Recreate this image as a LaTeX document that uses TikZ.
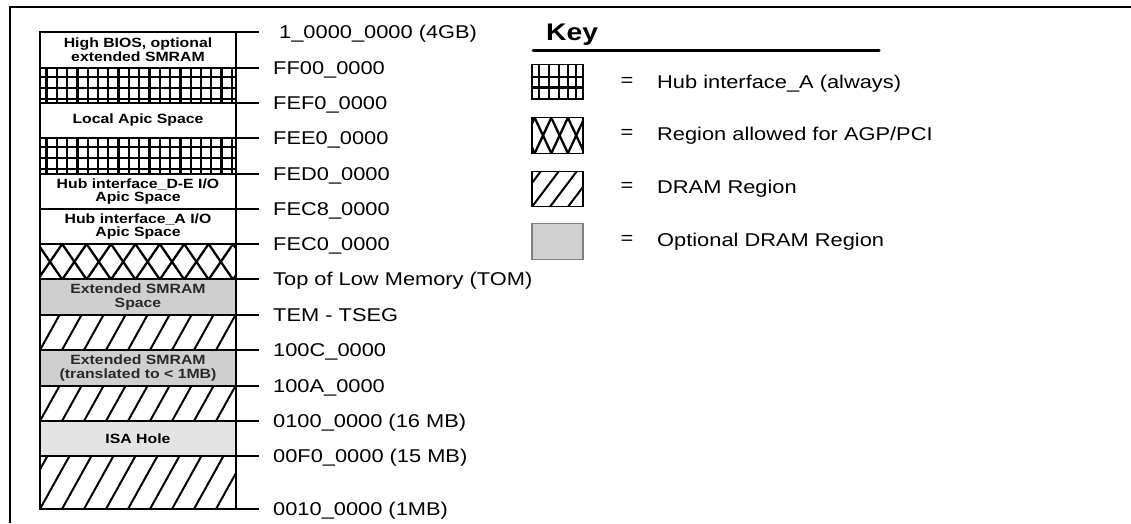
\documentclass[tikz,border=0pt]{standalone}
\usepackage{fontspec}
\setmainfont{Liberation Sans}[FakeStretch=1.18]
\usetikzlibrary{calc}
\definecolor{smram}{HTML}{CFCFCF}
\definecolor{isagray}{HTML}{E4E4E4}
\definecolor{keygray}{HTML}{D0D0D0}
\definecolor{darktext}{HTML}{2A2A2A}
\tikzset{
  membox/.style={draw, line width=1.4pt, minimum width=196pt, inner sep=0pt, outer sep=0pt,
    font=\bfseries\fontsize{13.4}{13.9}\selectfont, align=center},
  keybox/.style={draw, line width=1.4pt, minimum width=51pt, minimum height=35.5pt, inner sep=0pt, outer sep=0pt},
  addr/.style={anchor=base west, inner sep=0pt, font=\fontsize{18.5}{20}\selectfont},
  eqsign/.style={inner sep=0pt, font=\fontsize{18.5}{20}\selectfont},
  tickline/.style={line width=1.3pt},
  patline/.style={line width=2.3pt},
  gridpat/.style={path picture={
      \coordinate (nw) at (path picture bounding box.north west);
      \foreach \i in {0,...,18} {\draw[patline] ($(nw)+(6.5+10.3*\i,0)$) -- ++(0,40);}
      \foreach \j in {9,20,31} {\draw[patline] ($(nw)+(0,\j)$) -- ++(200,0);}
  }},
  crosspat/.style={path picture={
      \coordinate (nw) at (path picture bounding box.north west);
      \foreach \i in {-1,...,9} {
        \pgfmathsetmacro\cc{10+24.4*\i}
        \draw[patline] ($(nw)+(\cc-12.2,0)$) -- ++(24.4,35.5);
        \draw[patline] ($(nw)+(\cc+12.2,0)$) -- ++(-24.4,35.5);
      }
  }},
  diagpat/.style={path picture={
      \coordinate (sw) at (path picture bounding box.south west);
      \foreach \i in {-4,...,10} {\draw[line width=2pt] ($(sw)+(22*\i,0)$) -- ++(40,-72);}
  }},
  keygridpat/.style={path picture={
      \coordinate (nw) at (path picture bounding box.north west);
      \foreach \xx in {7.3,17.3,27.3,36.3,44} {\draw[patline] ($(nw)+(\xx,0)$) -- ++(0,40);}
      \foreach \j in {12.7,23.3,35} {\draw[patline] ($(nw)+(0,\j)$) -- ++(60,0);}
  }},
  keycrosspat/.style={path picture={
      \coordinate (nw) at (path picture bounding box.north west);
      \foreach \i in {-1,...,3} {
        \pgfmathsetmacro\cc{11+16.6*\i}
        \draw[patline] ($(nw)+(\cc-8.3,0)$) -- ++(16.6,35.5);
        \draw[patline] ($(nw)+(\cc+8.3,0)$) -- ++(-16.6,35.5);
      }
  }},
  keydiagpat/.style={path picture={
      \coordinate (sw) at (path picture bounding box.south west);
      \foreach \i in {-3,...,3} {\draw[line width=2pt] ($(sw)+(18*\i,0)$) -- ++(40,-53);}
  }},
}
\begin{document}
\begin{tikzpicture}[x=1pt,y=-1pt]
\useasboundingbox (0,0) rectangle (1131,523);
% frame
\draw[line width=2.4pt] (10,523) -- (10,7) -- (1131,7);

% memory map rows
\node[membox, minimum height=36pt] (r1) at (138,50) {High BIOS, optional\\extended SMRAM};
\node[membox, minimum height=35pt, gridpat] (r2) at (138,85.5) {};
\node[membox, minimum height=35pt] (r3) at (138,120.5) {Local Apic Space};
\node[membox, minimum height=36pt, gridpat] (r4) at (138,156) {};
\node[membox, minimum height=35pt] (r5) at (138,191.5) {Hub interface\_D-E I/O\\Apic Space};
\node[membox, minimum height=35pt] (r6) at (138,226.5) {Hub interface\_A I/O\\Apic Space};
\node[membox, minimum height=35pt, crosspat] (r7) at (138,261.5) {};
\node[membox, minimum height=36pt, fill=smram, text=darktext] (r8) at (138,297) {Extended SMRAM\\Space};
\node[membox, minimum height=35pt, diagpat] (r9) at (138,332.5) {};
\node[membox, minimum height=36pt, fill=smram, text=darktext] (r10) at (138,368) {Extended SMRAM\\(translated to < 1MB)};
\node[membox, minimum height=35pt, diagpat] (r11) at (138,403.5) {};
\node[membox, minimum height=35pt, fill=isagray] (r12) at (138,438.5) {ISA Hole};
\node[membox, minimum height=53pt, diagpat] (r13) at (138,482.5) {};

% ticks
\foreach \r in {r1,r2,r3,r4,r5,r6,r7,r8,r9,r10,r11,r12,r13} {
  \draw[tickline] (\r.north east) -- ++(23,0);
}
\draw[tickline] (r13.south east) -- ++(23,0);

% address labels
\node[addr] (a1) at (279,38.6) {1\_0000\_0000 (4GB)};
\node[addr] (a2) at (273,74.6) {FF00\_0000};
\node[addr] (a3) at (273,109.6) {FEF0\_0000};
\node[addr] (a4) at (273,144.6) {FEE0\_0000};
\node[addr] (a5) at (273,180.6) {FED0\_0000};
\node[addr] (a6) at (273,215.6) {FEC8\_0000};
\node[addr] (a7) at (273,250.6) {FEC0\_0000};
\node[addr] (a8) at (273,285.6) {Top of Low Memory (TOM)};
\node[addr] (a9) at (273,321.6) {TEM - TSEG};
\node[addr] (a10) at (273,356.6) {100C\_0000};
\node[addr] (a11) at (273,392.6) {100A\_0000};
\node[addr] (a12) at (273,427.6) {0100\_0000 (16 MB)};
\node[addr] (a13) at (273,462.6) {00F0\_0000 (15 MB)};
\node[addr] (a14) at (273,515.6) {0010\_0000 (1MB)};

% key
\node[anchor=base west, inner sep=0pt, font=\bfseries\fontsize{24}{26}\selectfont] (keytitle) at (546,40) {Key};
\draw[line width=3pt, line cap=round] (533,50.5) -- (879,50.5);

\node[keybox, keygridpat] (k1) at (557.5,82) {};
\node[keybox, keycrosspat] (k2) at (557.5,135.5) {};
\node[keybox, keydiagpat] (k3) at (557.5,189) {};
\node[keybox, fill=keygray, draw=gray] (k4) at (557.5,241.5) {};

\node[eqsign] (e1) at (627,82) {=};
\node[eqsign] (e2) at (627,134) {=};
\node[eqsign] (e3) at (627,187) {=};
\node[eqsign] (e4) at (627,240) {=};

\node[addr] (t1) at (657,88.6) {Hub interface\_A (always)};
\node[addr] (t2) at (657,140.1) {Region allowed for AGP/PCI};
\node[addr] (t3) at (657,193.6) {DRAM Region};
\node[addr] (t4) at (657,246.6) {Optional DRAM Region};
\end{tikzpicture}
\end{document}
